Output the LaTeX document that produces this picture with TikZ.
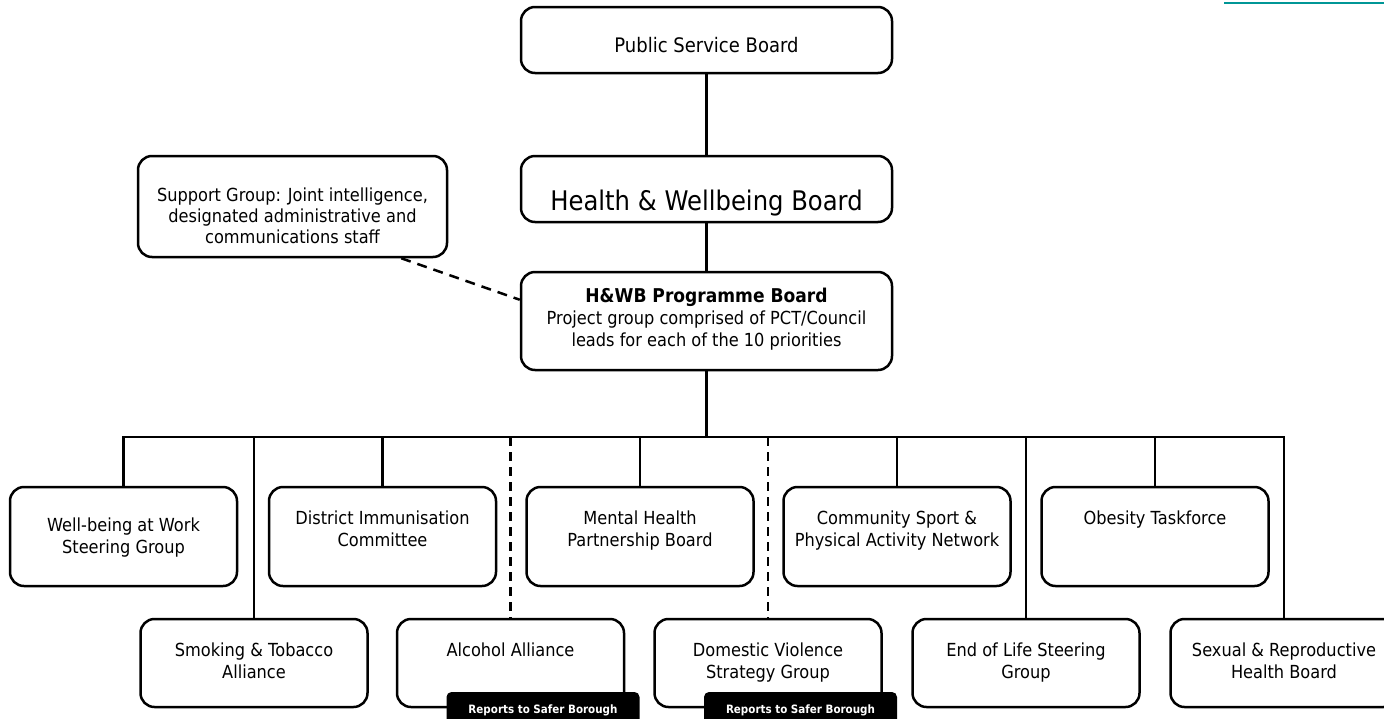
\documentclass[tikz,border=0pt]{standalone}
\usepackage{fontspec}
\setmainfont[FakeStretch=0.9]{DejaVu Sans}
\usetikzlibrary{calc}
\tikzstyle{unit} = [rectangle, draw, line width=2.5pt, rounded corners=14pt, inner sep=0pt, font=\fontsize{18}{22}\selectfont]
\tikzstyle{tab} = [rectangle, fill=black, text=white, rounded corners=5pt, inner sep=0pt, minimum width=193pt, minimum height=36pt, font=\fontsize{11.5}{14}\selectfont\bfseries]
\tikzset{link/.style = {
    line width=2.5pt,
  },
  dashlink/.style = {
    link, dash pattern=on 9pt off 6pt,
  }
}
\definecolor{tealbar}{RGB}{0,150,150}
% box text: width, height, first baseline, text
\newcommand{\cell}[4]{\parbox[c][#2][t]{#1}{\centering\rule{0pt}{#3}#4}}

\begin{document}
\begin{tikzpicture}[x=1pt, y=-1pt]
            \useasboundingbox (0,0) rectangle (1384,718);
            \clip (0,0) rectangle (1384,718);
            \draw[tealbar, line width=2.5pt] (1224,3) -- (1384,3);

            % boards
            \node[unit] (b1) at (706.5,40) {\cell{371pt}{66pt}{45pt}{\fontsize{20}{24}\selectfont Public Service Board}};
            \node[unit] (b2) at (706.5,189) {\cell{371pt}{66pt}{54pt}{\fontsize{27}{30}\selectfont Health \& Wellbeing Board}};
            \node[unit] (b3) at (706.5,321) {\cell{371pt}{98pt}{30pt}{{\fontsize{19}{22}\selectfont\bfseries H\&WB Programme Board}\\Project group comprised of PCT/Council\\leads for each of the 10 priorities}};
            \node[unit, font=\fontsize{18}{21}\selectfont] (sup) at (292.5,206.5) {\cell{309pt}{101pt}{45pt}{Support Group: Joint intelligence,\\designated administrative and\\communications staff}};
            \coordinate (hub) at (706.5,437);

            % groups, upper row
            \node[unit] (g1) at (123.5,536.5) {\cell{227pt}{99pt}{44pt}{Well-being at Work\\Steering Group}};
            \node[unit] (g2) at (382.5,536.5) {\cell{227pt}{99pt}{37pt}{District Immunisation\\Committee}};
            \node[unit] (g3) at (640,536.5) {\cell{227pt}{99pt}{37pt}{Mental Health\\Partnership Board}};
            \node[unit] (g4) at (897,536.5) {\cell{227pt}{99pt}{37pt}{Community Sport \&\\Physical Activity Network}};
            \node[unit] (g5) at (1155,536.5) {\cell{227pt}{99pt}{37pt}{Obesity Taskforce}};

            % groups, lower row
            \node[unit] (g6) at (254,663) {\cell{227pt}{88pt}{37pt}{Smoking \& Tobacco\\Alliance}};
            \node[unit] (g7) at (510.5,663) {\cell{227pt}{88pt}{37pt}{Alcohol Alliance}};
            \node[unit] (g8) at (768,663) {\cell{227pt}{88pt}{37pt}{Domestic Violence\\Strategy Group}};
            \node[unit] (g9) at (1026,663) {\cell{227pt}{88pt}{37pt}{End of Life Steering\\Group}};
            \node[unit] (g10) at (1284,663) {\cell{227pt}{88pt}{37pt}{Sexual \& Reproductive\\Health Board}};

            \node[tab] (t1) at (543,710) {Reports to Safer Borough};
            \node[tab] (t2) at (800.5,710) {Reports to Safer Borough};

            % board lines
            \draw[link] (b1) -- (b2);
            \draw[link] (b2) -- (b3);
            \draw[link] (b3) -- (hub);
            \draw[link, dash pattern=on 10pt off 7pt] ($(sup.south east)+(-47,0)$) -- ($(b3.north west)+(0,29)$);

            % group lines
            \foreach \g in {g1,g2,g3,g4,g5,g6,g9,g10}
              \draw[link] (hub) -| (\g.north);
            \foreach \g in {g7,g8}{
              \draw[link] (hub) -- (hub -| \g.north);
              \draw[dashlink] (hub -| \g.north) -- (\g.north);
            }
\end{tikzpicture}
\end{document}
